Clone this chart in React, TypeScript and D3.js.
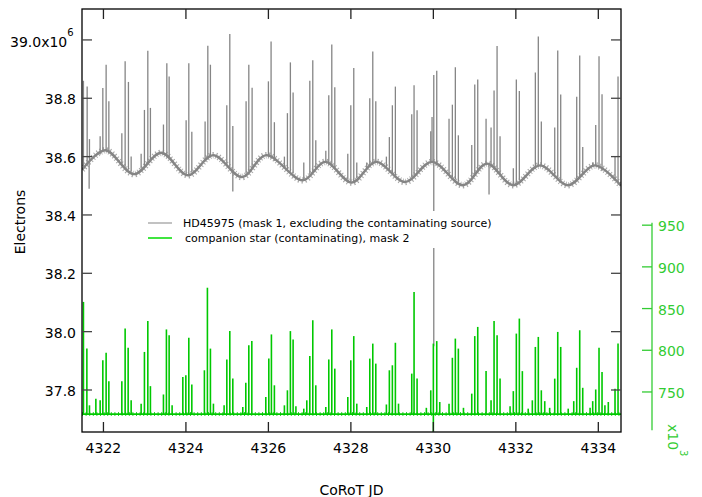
import React from "react";
import * as d3 from "d3";

const W = 702;
const H = 497;
const PL = 82, PR = 621, PT = 9, PB = 432;

const xTicks = [4322, 4324, 4326, 4328, 4330, 4332, 4334];
const yTicks = [37.8, 38.0, 38.2, 38.4, 38.6, 38.8, 39.0];
const greenTicks = [750, 800, 850, 900, 950];

// HD45975 slow baseline (hump extremes)
const baseT = [4321.484, 4322.041, 4322.744, 4323.399, 4324.053, 4324.659, 4325.362, 4325.944, 4326.834, 4327.375, 4328.022, 4328.611, 4329.314, 4329.968, 4330.72, 4331.30, 4331.932, 4332.587, 4333.266, 4333.92, 4334.55];
const baseV = [38.555, 38.622, 38.540, 38.613, 38.536, 38.605, 38.530, 38.605, 38.519, 38.582, 38.511, 38.582, 38.513, 38.582, 38.502, 38.576, 38.502, 38.570, 38.502, 38.570, 38.500];

// HD45975 upward spikes
const graySpikeT = [4321.515, 4321.605, 4321.661, 4321.92, 4321.985, 4322.065, 4322.131, 4322.446, 4322.526, 4322.606, 4322.672, 4322.914, 4322.994, 4323.076, 4323.139, 4323.455, 4323.537, 4323.593, 4324.005, 4324.07, 4324.143, 4324.465, 4324.531, 4324.594, 4324.991, 4325.064, 4325.137, 4325.459, 4325.525, 4325.605, 4326.0, 4326.065, 4326.145, 4326.388, 4326.461, 4326.533, 4326.599, 4326.858, 4327.004, 4327.076, 4327.149, 4327.392, 4327.464, 4327.537, 4327.61, 4327.925, 4327.998, 4328.07, 4328.143, 4328.385, 4328.458, 4328.531, 4328.604, 4328.861, 4328.933, 4329.006, 4329.079, 4329.476, 4329.532, 4329.605, 4329.937, 4329.968, 4330.01, 4330.082, 4330.38, 4330.461, 4330.533, 4330.606, 4330.931, 4331.004, 4331.076, 4331.278, 4331.399, 4331.472, 4331.545, 4331.617, 4331.939, 4332.012, 4332.085, 4332.473, 4332.545, 4332.618, 4332.943, 4333.016, 4333.088, 4333.476, 4333.549, 4333.622, 4333.864, 4333.937, 4334.017, 4334.09, 4334.405, 4334.478];
const graySpikeV = [38.86, 38.84, 38.66, 38.67, 38.835, 38.915, 38.79, 38.68, 38.927, 38.856, 38.60, 38.61, 38.76, 38.963, 38.767, 38.71, 38.92, 38.875, 38.725, 38.92, 38.685, 38.72, 38.98, 38.915, 38.776, 39.02, 38.705, 38.79, 38.915, 38.836, 38.858, 38.995, 38.718, 38.60, 38.749, 38.923, 38.82, 38.58, 38.86, 38.93, 38.656, 38.62, 38.81, 38.984, 38.838, 38.61, 38.776, 38.904, 38.58, 38.58, 38.80, 38.96, 38.79, 38.60, 38.667, 38.776, 38.84, 38.745, 38.845, 38.759, 38.687, 38.736, 38.88, 38.894, 38.73, 38.778, 38.906, 38.673, 38.64, 38.847, 38.864, 38.73, 38.70, 38.827, 38.979, 38.67, 38.56, 38.864, 38.825, 38.888, 39.012, 38.72, 38.70, 38.964, 38.813, 38.805, 38.947, 38.633, 38.58, 38.708, 38.944, 38.814, 38.60, 38.875];

// HD45975 downward excursions
const grayDipT = [4321.653, 4325.137, 4330.01, 4331.35];
const grayDipV = [38.49, 38.48, 37.95, 38.47];

// companion star (x10^3 electrons)
const greenBaseT = [4321.48, 4334.55];
const greenBaseV = [723.5, 723.5];
const greenSpikeT = [4321.515, 4321.598, 4321.661, 4321.816, 4321.92, 4321.985, 4322.065, 4322.131, 4322.446, 4322.526, 4322.599, 4322.672, 4322.914, 4322.994, 4323.076, 4323.139, 4323.455, 4323.527, 4323.593, 4323.665, 4323.925, 4323.998, 4324.07, 4324.143, 4324.448, 4324.521, 4324.594, 4324.667, 4324.926, 4324.992, 4325.064, 4325.137, 4325.379, 4325.452, 4325.525, 4325.598, 4325.937, 4326.01, 4326.073, 4326.145, 4326.388, 4326.461, 4326.533, 4326.599, 4326.667, 4326.858, 4326.931, 4327.004, 4327.076, 4327.149, 4327.392, 4327.464, 4327.537, 4327.61, 4327.925, 4327.998, 4328.07, 4328.143, 4328.385, 4328.458, 4328.531, 4328.604, 4328.861, 4328.933, 4329.006, 4329.079, 4329.155, 4329.476, 4329.532, 4329.605, 4329.83, 4329.937, 4330.0, 4330.082, 4330.155, 4330.38, 4330.461, 4330.533, 4330.606, 4330.73, 4330.931, 4331.004, 4331.076, 4331.278, 4331.399, 4331.472, 4331.545, 4331.617, 4331.86, 4331.939, 4332.012, 4332.085, 4332.158, 4332.3, 4332.4, 4332.473, 4332.545, 4332.618, 4332.701, 4332.82, 4332.943, 4333.016, 4333.088, 4333.27, 4333.404, 4333.476, 4333.549, 4333.622, 4333.8, 4333.864, 4333.937, 4334.017, 4334.09, 4334.16, 4334.242, 4334.405, 4334.478];
const greenSpikeV = [858, 802, 734, 742, 740, 788, 797, 763, 763, 826, 803, 740, 736, 798, 835, 757, 747, 825, 818, 734, 768, 770, 815, 759, 776, 875, 802, 736, 734, 789, 823, 766, 732, 761, 806, 811, 744, 790, 819, 758, 734, 752, 823, 813, 733, 730, 740, 793, 836, 758, 732, 789, 825, 778, 744, 788, 817, 736, 732, 790, 808, 784, 735, 776, 782, 809, 736, 772, 870, 766, 731, 752, 808, 811, 738, 736, 791, 814, 802, 731, 748, 817, 828, 775, 740, 835, 818, 766, 733, 751, 820, 838, 775, 730, 740, 804, 816, 752, 739, 731, 766, 822, 804, 730, 739, 779, 824, 755, 731, 739, 753, 803, 774, 734, 738, 754, 808];
const greenDipT = [4330.0];
const greenDipV = [702];

const GRAY = "#858585";
const GREEN = "#00c800";
const AXGREEN = "#33cc33";
const FONT = "DejaVu Sans, Verdana, sans-serif";

export default function App() {
  const x = d3.scaleLinear().domain([4321.48, 4334.55]).range([PL, PR]);
  const y = d3.scaleLinear().domain([37.656, 39.106]).range([PB, PT]);
  const yg = d3.scaleLinear().domain([702, 1209.2]).range([PB, PT]);
  const baseAt = d3.scaleLinear().domain(baseT).range(baseV);
  const greenAt = d3.scaleLinear().domain(greenBaseT).range(greenBaseV);

  const basePts: [number, number][] = baseT.map((t, i) => [t, baseV[i]]);
  const baseLine = d3
    .line<[number, number]>()
    .x((d) => x(d[0]))
    .y((d) => y(d[1]))
    .curve(d3.curveCatmullRom.alpha(0.5));
  const gBasePts: [number, number][] = greenBaseT.map((t, i) => [t, greenBaseV[i]]);
  const gLine = d3
    .line<[number, number]>()
    .x((d) => x(d[0]))
    .y((d) => yg(d[1]));
  const baseD = baseLine(basePts) || "";
  const gD = gLine(gBasePts) || "";

  return (
    <svg
      width={W}
      height={H}
      style={{ position: "absolute", left: 0, top: 0, background: "#fff" }}
      fontFamily={FONT}
    >
      <defs>
        <clipPath id="plotClip">
          <rect x={PL} y={PT} width={PR - PL} height={PB - PT} />
        </clipPath>
      </defs>
      <rect x={0} y={0} width={W} height={H} fill="#fff" />
      <g clipPath="url(#plotClip)">
        {graySpikeT.map((t, i) => (
          <line
            key={"gs" + i}
            x1={x(t)}
            x2={x(t)}
            y1={y(baseAt(t))}
            y2={y(graySpikeV[i])}
            stroke={GRAY}
            strokeWidth={1.3}
          />
        ))}
        {grayDipT.map((t, i) => (
          <line
            key={"gd" + i}
            x1={x(t)}
            x2={x(t)}
            y1={y(baseAt(t))}
            y2={y(grayDipV[i])}
            stroke={GRAY}
            strokeWidth={1.3}
          />
        ))}
        <path d={baseD} fill="none" stroke="#8a8a8a" strokeWidth={6.5} strokeDasharray="1 2.2" opacity={0.75} />
        <path d={baseD} fill="none" stroke="#858585" strokeWidth={2.4} />
      </g>

      {/* legend */}
      <rect x={140} y={211} width={365} height={37} fill="#fff" />
      <line x1={148} x2={172} y1={223} y2={223} stroke={GRAY} strokeWidth={1} />
      <text x={183} y={227} fontSize={11} fill="#000">
        HD45975 (mask 1, excluding the contaminating source)
      </text>
      <line x1={148} x2={172} y1={238} y2={238} stroke="#00dd00" strokeWidth={1.5} />
      <text x={185} y={242} fontSize={11} fill="#000">
        companion star (contaminating), mask 2
      </text>

      <g clipPath="url(#plotClip)">
        {greenSpikeT.map((t, i) => (
          <line
            key={"ns" + i}
            x1={x(t)}
            x2={x(t)}
            y1={yg(greenAt(t))}
            y2={yg(greenSpikeV[i])}
            stroke={GREEN}
            strokeWidth={1.6}
          />
        ))}
        {greenDipT.map((t, i) => (
          <line
            key={"nd" + i}
            x1={x(t)}
            x2={x(t)}
            y1={yg(greenAt(t))}
            y2={yg(greenDipV[i])}
            stroke={GREEN}
            strokeWidth={1.6}
          />
        ))}
        <path d={gD} fill="none" stroke={GREEN} strokeWidth={4} strokeDasharray="1 2.6" opacity={0.8} />
        <path d={gD} fill="none" stroke={GREEN} strokeWidth={1.8} />
      </g>

      {/* frame */}
      <rect x={PL} y={PT} width={PR - PL} height={PB - PT} fill="none" stroke="#000" strokeWidth={1.3} />

      {/* x ticks */}
      {xTicks.map((t) => (
        <g key={"xt" + t}>
          <line x1={x(t)} x2={x(t)} y1={PB} y2={PB - 10} stroke="#222" strokeWidth={1.3} />
          <line x1={x(t)} x2={x(t)} y1={PT} y2={PT + 10} stroke="#222" strokeWidth={1.3} />
          <text x={x(t)} y={453} fontSize={14} textAnchor="middle" fill="#000">
            {t}
          </text>
        </g>
      ))}

      {/* y ticks */}
      {yTicks.map((v) => (
        <g key={"yt" + v}>
          <line x1={PL} x2={PL + 10} y1={y(v)} y2={y(v)} stroke="#444" strokeWidth={1.3} />
          <line x1={PR} x2={PR - 10} y1={y(v)} y2={y(v)} stroke="#444" strokeWidth={1.3} />
          {v === 39.0 ? (
            <text x={10} y={y(v) + 7} fontSize={14} fill="#000">
              {v.toFixed(1) + "x10"}
              <tspan fontSize={10} dy={-11}>
                6
              </tspan>
            </text>
          ) : (
            <text x={76} y={y(v) + 6} fontSize={14} textAnchor="end" fill="#000">
              {v.toFixed(1)}
            </text>
          )}
        </g>
      ))}

      {/* right green axis */}
      <line x1={652} x2={652} y1={yg(953)} y2={yg(704)} stroke={AXGREEN} strokeWidth={1.3} />
      {greenTicks.map((v) => (
        <g key={"gt" + v}>
          <line x1={642} x2={652} y1={yg(v)} y2={yg(v)} stroke={AXGREEN} strokeWidth={1.3} />
          <text x={658} y={yg(v) + 6} fontSize={14} fill={AXGREEN}>
            {v}
          </text>
        </g>
      ))}
      <text transform="translate(668,424) rotate(90)" fontSize={14} fill={AXGREEN}>
        x10
        <tspan fontSize={10} dy={-12}>
          3
        </tspan>
      </text>

      {/* axis titles */}
      <text transform="translate(25,222) rotate(-90)" fontSize={14} textAnchor="middle" fill="#000">
        Electrons
      </text>
      <text x={(PL + PR) / 2} y={495} fontSize={14} textAnchor="middle" fill="#000">
        CoRoT JD
      </text>
    </svg>
  );
}
